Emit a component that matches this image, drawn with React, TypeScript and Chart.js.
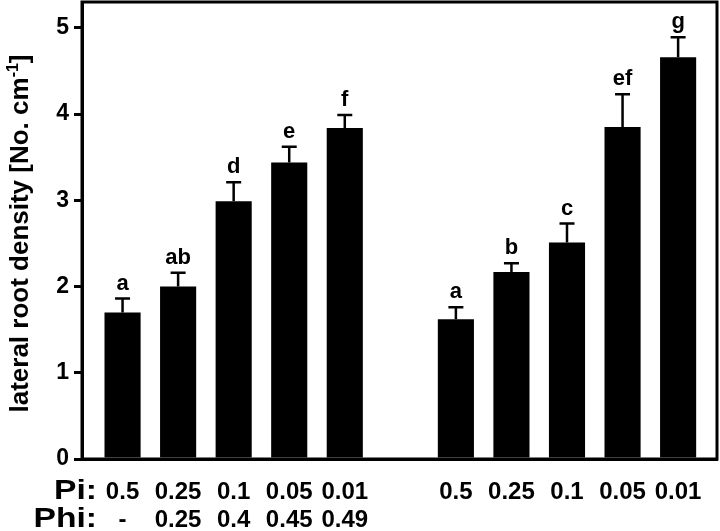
import React, { useEffect, useRef } from "react";
import { Chart, registerables } from "chart.js";

Chart.register(...registerables);

const xPositions = [1, 2, 3, 4, 5, 7, 8, 9, 10, 11];
const piLabels = ["0.5", "0.25", "0.1", "0.05", "0.01", "0.5", "0.25", "0.1", "0.05", "0.01"];
const phiLabels = ["-", "0.25", "0.4", "0.45", "0.49", "", "", "", "", ""];
const means = [1.7, 2.0, 2.99, 3.44, 3.84, 1.62, 2.17, 2.51, 3.85, 4.66];
const upperErrors = [0.16, 0.16, 0.22, 0.18, 0.15, 0.14, 0.1, 0.22, 0.38, 0.23];
const letters = ["a", "ab", "d", "e", "f", "a", "b", "c", "ef", "g"];
const yTicks = [0, 1, 2, 3, 4, 5];

const FONT = "'Liberation Sans', Arial, sans-serif";

const decorPlugin = {
  id: "decor",
  afterDatasetsDraw(chart: any) {
    const { ctx, chartArea, scales } = chart;
    const xs = scales.x;
    const ys = scales.y;
    ctx.save();
    // error bars
    ctx.strokeStyle = "#000";
    ctx.lineWidth = 2.5;
    means.forEach((m, i) => {
      const px = xs.getPixelForValue(xPositions[i]);
      const yTop = ys.getPixelForValue(m + upperErrors[i]);
      const yBar = ys.getPixelForValue(m);
      ctx.beginPath();
      ctx.moveTo(px, yBar);
      ctx.lineTo(px, yTop);
      ctx.moveTo(px - 7.5, yTop);
      ctx.lineTo(px + 7.5, yTop);
      ctx.stroke();
      // letters
      ctx.fillStyle = "#000";
      ctx.font = `bold 22px ${FONT}`;
      ctx.textAlign = "center";
      ctx.textBaseline = "alphabetic";
      ctx.fillText(letters[i], px, yTop - 9);
    });
    // box
    ctx.lineWidth = 3;
    ctx.strokeRect(chartArea.left, chartArea.top, chartArea.right - chartArea.left, chartArea.bottom - chartArea.top);
    // row headers (slightly wide glyphs as in the reference)
    ctx.font = `bold 28px ${FONT}`;
    ctx.textAlign = "right";
    ctx.textBaseline = "middle";
    ctx.save();
    ctx.translate(97, 0);
    ctx.scale(1.2, 1);
    ctx.fillText("Pi:", 0, 491);
    ctx.fillText("Phi:", 0, 519);
    ctx.restore();
    // y title with superscript
    const main = "lateral root density [No. cm";
    const sup = "-1";
    const end = "]";
    const big = 26;
    const small = 16;
    ctx.font = `bold ${big}px ${FONT}`;
    const w1 = ctx.measureText(main).width;
    const w3 = ctx.measureText(end).width;
    ctx.font = `bold ${small}px ${FONT}`;
    const w2 = ctx.measureText(sup).width;
    const total = w1 + w2 + w3;
    const cy = (chartArea.top + chartArea.bottom) / 2 + 3;
    ctx.translate(28, cy);
    ctx.rotate(-Math.PI / 2);
    ctx.textAlign = "left";
    ctx.textBaseline = "alphabetic";
    let x0 = -total / 2;
    ctx.font = `bold ${big}px ${FONT}`;
    ctx.fillText(main, x0, 0);
    x0 += w1;
    ctx.font = `bold ${small}px ${FONT}`;
    ctx.fillText(sup, x0, -10);
    x0 += w2;
    ctx.font = `bold ${big}px ${FONT}`;
    ctx.fillText(end, x0, 0);
    ctx.restore();
  },
};

export default function App() {
  const ref = useRef<HTMLCanvasElement | null>(null);
  useEffect(() => {
    document.body.style.margin = "0";
    const canvas = ref.current;
    if (!canvas) return;
    const chart = new Chart(canvas, {
      type: "bar",
      data: {
        datasets: [
          {
            data: means.map((m, i) => ({ x: xPositions[i], y: m })),
            backgroundColor: "#000",
            borderWidth: 0,
            barPercentage: 0.65,
            categoryPercentage: 1,
          },
        ],
      },
      options: {
        animation: false,
        responsive: false,
        maintainAspectRatio: false,
        layout: { padding: { top: 2, right: 3, left: 0, bottom: 0 } },
        plugins: { legend: { display: false }, tooltip: { enabled: false } },
        scales: {
          x: {
            type: "linear",
            offset: false,
            min: 0.27,
            max: 11.7,
            grid: { display: false, drawTicks: false },
            border: { display: true, color: "#000", width: 3 },
            afterBuildTicks: (scale: any) => {
              scale.ticks = xPositions.map((v) => ({ value: v }));
            },
            afterFit: (scale: any) => {
              scale.height = 72;
              scale.paddingLeft = 0;
              scale.paddingRight = 0;
            },
            ticks: {
              autoSkip: false,
              maxRotation: 0,
              color: "#000",
              padding: 19,
              font: { family: FONT, size: 24, weight: "bold", lineHeight: 1.17 },
              callback: (value: any) => {
                const i = xPositions.indexOf(value);
                if (i < 0) return "";
                return [piLabels[i], phiLabels[i]];
              },
            },
          },
          y: {
            min: 0,
            max: 5.3,
            afterBuildTicks: (scale: any) => {
              scale.ticks = yTicks.map((v) => ({ value: v }));
            },
            afterFit: (scale: any) => {
              scale.width = 82;
              scale.paddingTop = 0;
              scale.paddingBottom = 0;
            },
            grid: { display: true, drawOnChartArea: false, drawTicks: true, tickLength: 8, color: "#000", lineWidth: 3 },
            border: { display: true, color: "#000", width: 3 },
            ticks: {
              color: "#000",
              padding: 5,
              font: { family: FONT, size: 23, weight: "bold" },
            },
          },
        },
      },
      plugins: [decorPlugin],
    } as any);
    return () => chart.destroy();
  }, []);
  return (
    <div style={{ width: 720, height: 531 }}>
      <canvas ref={ref} width={720} height={531} style={{ display: "block", width: 720, height: 531 }} />
    </div>
  );
}
